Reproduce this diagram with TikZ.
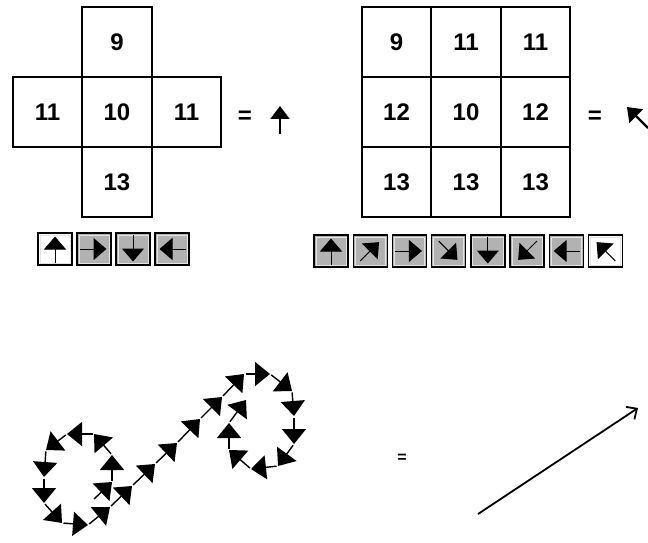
\documentclass[tikz,border=0pt]{standalone}
\usepackage{fontspec}
\setmainfont{Liberation Sans}
\usetikzlibrary{arrows.meta,positioning}
\definecolor{btngray}{HTML}{B2B2B2}
\definecolor{bevel}{HTML}{E4E4E4}

\begin{document}
\begin{tikzpicture}[x=1pt,y=1pt,
  cell/.style={draw,line width=1.7pt,minimum width=69.5pt,minimum height=70pt,inner sep=0pt,outer sep=0pt,font=\fontsize{24}{26}\selectfont\bfseries},
  btn/.style={draw,line width=1.4pt,minimum width=34pt,minimum height=32pt,inner sep=0pt},
  btnarrow/.style={line width=1pt,-{Triangle[width=22pt,length=13pt]}},
  link/.style={line width=1.4pt,shorten <=1.5pt,-{Triangle[width=24pt,length=15pt]}},
  result/.style={line width=2.2pt,-{Triangle[width=19pt,length=13pt]}},
  eq/.style={font=\fontsize{24}{26}\selectfont\bfseries}]
  \useasboundingbox (0,0) rectangle (648,542);

  % cross of four neighbours
  \node[cell] (c0) at (117,430) {10};
  \node[cell,above=0pt of c0] (cn) {9};
  \node[cell,below=0pt of c0] (cs) {13};
  \node[cell,left=0pt of c0] (cw) {11};
  \node[cell,right=0pt of c0] (ce) {11};
  \node[eq] (eqa) at (245,425) {=};
  \coordinate (ua) at (280,408); \coordinate (ub) at (280,436);
  \draw[result] (ua) -- (ub);

  % eight neighbours
  \foreach \r/\row in {0/{9,11,11},1/{12,10,12},2/{13,13,13}}{
    \foreach \v [count=\c] in \row
      \node[cell] (g-\r-\c) at ({327+69.5*\c},{500-70*\r}) {\v};
  }
  \node[eq] (eqb) at (595,425) {=};
  \coordinate (ka) at (648,414); \coordinate (kb) at (627,435);
  \draw[result] (ka) -- (kb);

  % direction buttons
  \foreach \a/\f [count=\i] in {90/white,0/btngray,-90/btngray,180/btngray}{
    \node[btn,fill=\f] (lb\i) at ({55+39*(\i-1)},293) {};
    \draw[bevel,line width=0.8pt] ([shift={(2.6,2.6)}]lb\i.south west) rectangle ([shift={(-2.6,-2.6)}]lb\i.north east);
    \draw[btnarrow] ([shift={(\a+180:14)}]lb\i.center) -- ([shift={(\a:12.5)}]lb\i.center);
  }
  \foreach \a/\f [count=\i] in {90/btngray,45/btngray,0/btngray,-45/btngray,-90/btngray,-135/btngray,180/btngray,135/white}{
    \node[btn,fill=\f] (rb\i) at ({331+39.2*(\i-1)},291) {};
    \draw[bevel,line width=0.8pt] ([shift={(2.6,2.6)}]rb\i.south west) rectangle ([shift={(-2.6,-2.6)}]rb\i.north east);
    \draw[btnarrow] ([shift={(\a+180:14)}]rb\i.center) -- ([shift={(\a:12.5)}]rb\i.center);
  }

  % chain of directions along the stroke
  \foreach \x/\y [count=\i from 0] in {93/42,112/60,112/87,94/108,67/108,46/92,44/65,44/39,62/19,88/17,110/35,132/56,155/78,177/99,200/123,222/145,244/168,270/168,292/151,294/126,294/98,278/76,251/73,229/92,229/119,246/142}
    \coordinate (p\i) at (\x,\y);
  \foreach \i [remember=\i as \j (initially 0)] in {1,...,25}
    \draw[link] (p\j) -- (p\i);

  \node[font=\fontsize{16}{16}\selectfont\bfseries] (eqc) at (402,84) {=};
  \coordinate (ls) at (478,28); \coordinate (le) at (638,134);
  \draw[line width=1.8pt,-{Straight Barb[length=8pt,width=15pt]}] (ls) -- (le);
\end{tikzpicture}
\end{document}
